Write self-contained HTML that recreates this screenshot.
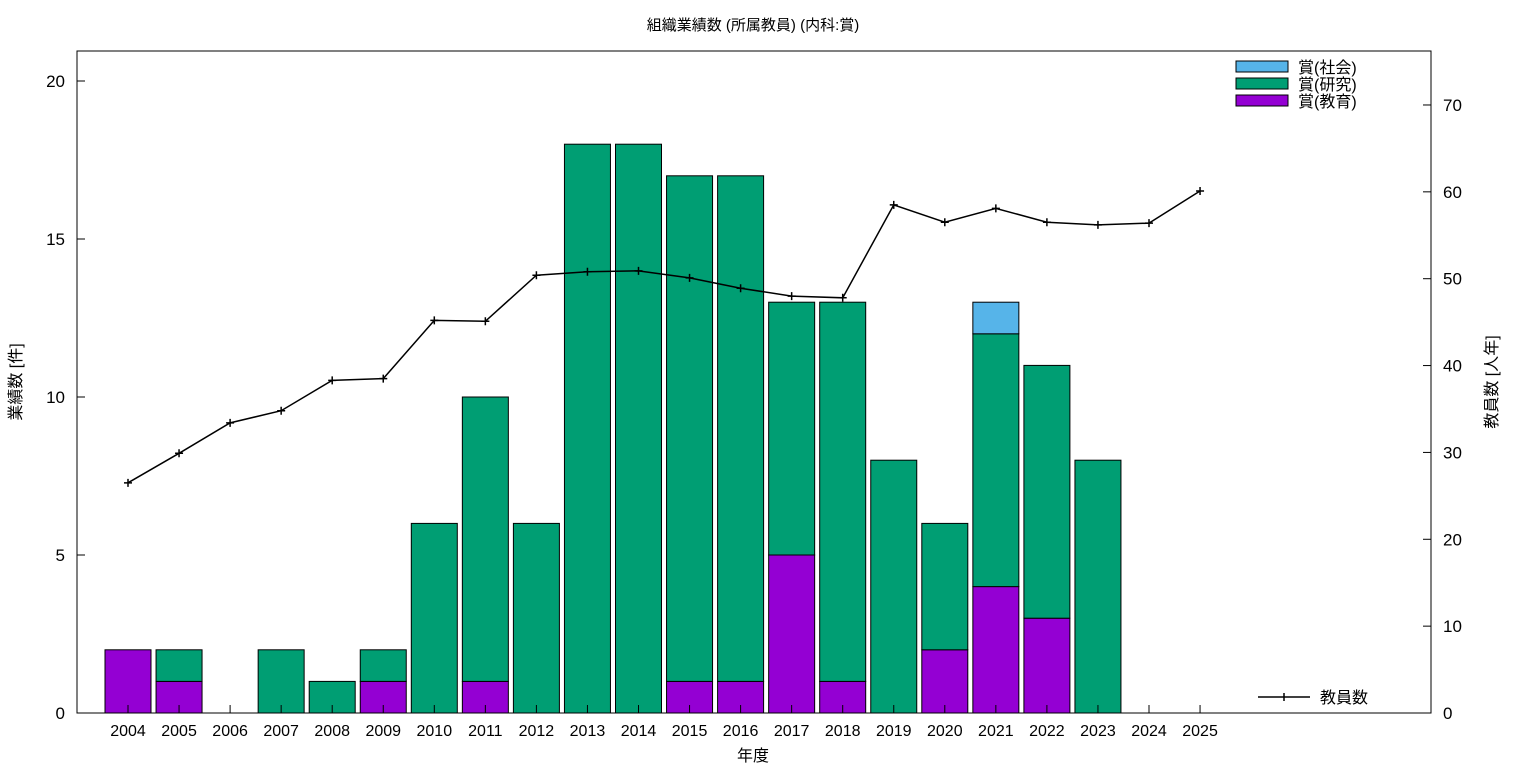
<!DOCTYPE html>
<html><head><meta charset="utf-8">
<style>
html,body{margin:0;padding:0;background:#fff;}
svg{display:block;font-family:"Liberation Sans","Noto Sans CJK JP",sans-serif;}
</style></head>
<body>
<svg id="c" width="1536" height="768" viewBox="0 0 1536 768"></svg>
<script>
const years=[2004,2005,2006,2007,2008,2009,2010,2011,2012,2013,2014,2015,2016,2017,2018,2019,2020,2021,2022,2023,2024,2025];
const eduAwards=[2,1,0,0,0,1,0,1,0,0,0,1,1,5,1,0,2,4,3,0,0,0];
const resAwards=[0,1,0,2,1,1,6,9,6,18,18,16,16,8,12,8,4,8,8,8,0,0];
const socAwards=[0,0,0,0,0,0,0,0,0,0,0,0,0,0,0,0,0,1,0,0,0,0];
const faculty=[26.5,29.9,33.4,34.8,38.3,38.5,45.2,45.1,50.4,50.8,50.9,50.1,48.9,48.0,47.8,58.5,56.5,58.1,56.5,56.2,56.4,60.1];
const leftTicks=[0,5,10,15,20];
const rightTicks=[0,10,20,30,40,50,60,70];

const L=77,R=1431,T=51,B=713;
const yL=v=>713-v*31.6;
const yR=v=>713-v*8.686;
const x=i=>128+i*51.05;
const bw=46;
const svg=document.getElementById('c');
const NS='http://www.w3.org/2000/svg';
function mk(tag,attrs,parent){const e=document.createElementNS(NS,tag);for(const k in attrs)e.setAttribute(k,attrs[k]);(parent||svg).appendChild(e);return e;}
function txt(s,attrs){const e=mk('text',attrs);e.textContent=s;return e;}

let t=txt('組織業績数 (所属教員) (内科:賞)',{x:753,y:30,'text-anchor':'middle','font-size':15});


// bars
years.forEach((yr,i)=>{
  let base=0;
  [[eduAwards,'#9400d3','bar-education'],[resAwards,'#009e73','bar-research'],[socAwards,'#56b4e9','bar-social']].forEach(([arr,col,nm])=>{
    const v=arr[i];
    if(v>0){
      const r=mk('rect',{x:x(i)-bw/2,y:yL(base+v),width:bw,height:yL(base)-yL(base+v),fill:col,stroke:'#000','stroke-width':1});
      
      
      base+=v;
    }
  });
});

// frame
const f=mk('rect',{x:L,y:T,width:R-L,height:B-T,fill:'none',stroke:'#000','stroke-width':1});


// left ticks
leftTicks.forEach(v=>{
  mk('line',{x1:L,x2:L+8,y1:yL(v),y2:yL(v),stroke:'#000'});
  const e=txt(String(v),{x:L-12,y:yL(v)+6,'text-anchor':'end','font-size':17});
  
});
rightTicks.forEach(v=>{
  mk('line',{x1:R-8,x2:R,y1:yR(v),y2:yR(v),stroke:'#000'});
  const e=txt(String(v),{x:R+12,y:yR(v)+6,'text-anchor':'start','font-size':17});
  
});
years.forEach((yr,i)=>{
  mk('line',{x1:x(i),x2:x(i),y1:B,y2:B-8,stroke:'#000'});
  const e=txt(String(yr),{x:x(i),y:B+23,'text-anchor':'middle','font-size':16});
  
});

let a=txt('年度',{x:753,y:761,'text-anchor':'middle','font-size':16});

a=txt('業績数 [件]',{x:0,y:0,'text-anchor':'middle','font-size':16,transform:'translate(21,382) rotate(-90)'});

a=txt('教員数 [人年]',{x:0,y:0,'text-anchor':'middle','font-size':16,transform:'translate(1497,382) rotate(-90)'});


// line
const pts=faculty.map((v,i)=>x(i)+','+yR(v)).join(' ');
const pl=mk('polyline',{points:pts,fill:'none',stroke:'#000','stroke-width':1.5});

faculty.forEach((v,i)=>{
  const g=mk('path',{d:`M${x(i)-4},${yR(v)}h8M${x(i)},${yR(v)-4}v8`,stroke:'#000','stroke-width':1.5});
  
});

// legend
[['賞(社会)','#56b4e9',67],['賞(研究)','#009e73',84],['賞(教育)','#9400d3',101]].forEach(([s,c,yy])=>{
  const r=mk('rect',{x:1236,y:yy-6,width:52,height:11,fill:c,stroke:'#000'});
  
  const e=txt(s,{x:1298,y:yy+6,'font-size':16});
  
});
const ll=mk('path',{d:'M1258,697h52M1284,693v8',stroke:'#000','stroke-width':1.5});

a=txt('教員数',{x:1320,y:703,'font-size':16});

</script>
</body></html>
